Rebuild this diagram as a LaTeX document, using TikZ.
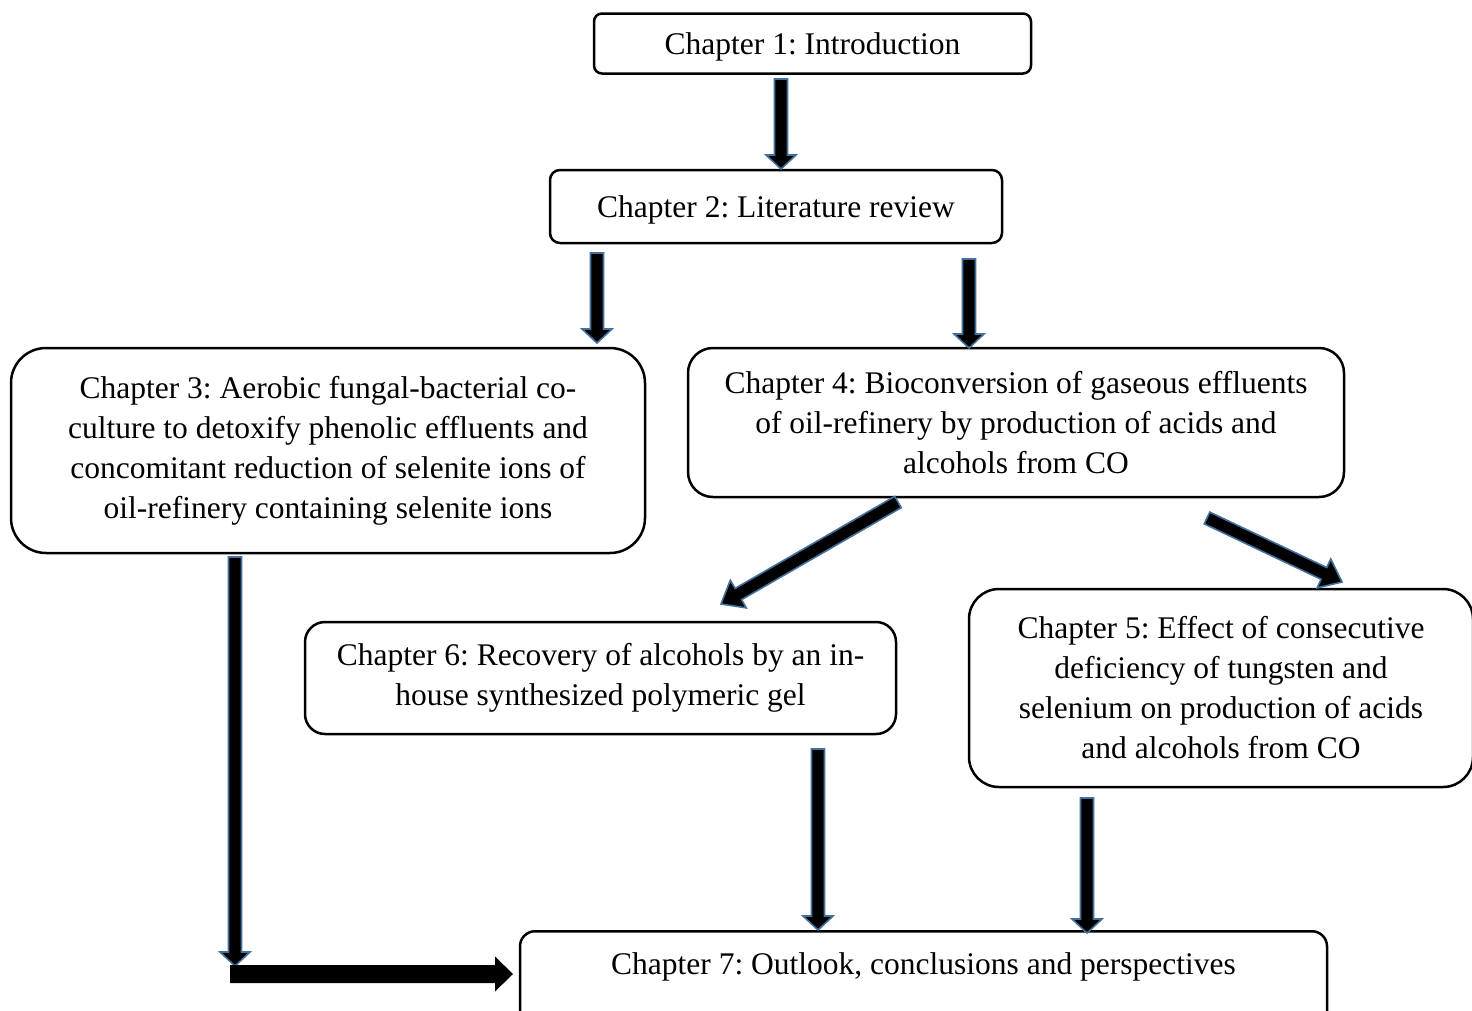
\documentclass[tikz,border=0pt]{standalone}
\usepackage{fontspec}
\setmainfont{Liberation Serif}
\usetikzlibrary{calc}
\definecolor{arrowedge}{HTML}{41719C}
\frenchspacing
\tikzset{
  chfont/.style={font=\fontsize{31.5}{40}\selectfont\frenchspacing},
  chbox/.style={draw=black, line width=2.5pt, fill=white, inner sep=0pt, align=center, chfont,
    execute at begin node={\rule{0pt}{28.5pt}}},
  barrow/.style={fill=black, draw=arrowedge, line width=1.6pt, line join=miter},
  barrowplain/.style={fill=black, draw=none},
}
% #1 style, #2 start, #3 end, #4 shaft half width, #5 head half width, #6 head length
\newcommand\blockarrow[6]{%
  \coordinate (hbase) at ($(#3)!#6!(#2)$);
  \path[#1] ($(#2)!#4!90:(#3)$) -- ($(hbase)!#4!90:(#3)$) -- ($(hbase)!#5!90:(#3)$)
    -- (#3) -- ($(hbase)!#5!-90:(#3)$) -- ($(hbase)!#4!-90:(#3)$)
    -- ($(#2)!#4!-90:(#3)$) -- cycle;
}
\begin{document}
\begin{tikzpicture}[x=1pt, y=-1pt]
\useasboundingbox (0,0) rectangle (1472,1010);

\node[chbox, rounded corners=8pt, minimum width=437pt, minimum height=60pt] (b1) at (812.5,43.5)
  {Chapter 1: Introduction};
\node[chbox, rounded corners=10pt, minimum width=452pt, minimum height=73pt] (b2) at (776,206.5)
  {Chapter 2: Literature review};
\node[chbox, rounded corners=35pt, minimum width=634pt, minimum height=205pt] (b3) at (328,450.5)
  {Chapter 3: Aerobic fungal-bacterial co-\\culture to detoxify phenolic effluents and\\concomitant reduction of selenite ions of\\oil-refinery containing selenite ions};
\node[chbox, rounded corners=25pt, minimum width=656pt, minimum height=149pt] (b4) at (1016,422.5)
  {Chapter 4: Bioconversion of gaseous effluents\\of oil-refinery by production of acids and\\alcohols from CO};
\node[chbox, rounded corners=20pt, minimum width=591pt, minimum height=112pt] (b6) at (600.5,678)
  {Chapter 6: Recovery of alcohols by an in-\\house synthesized polymeric gel};
\node[chbox, rounded corners=30pt, minimum width=504pt, minimum height=198pt] (b5) at (1221,688)
  {Chapter 5: Effect of consecutive\\deficiency of tungsten and\\selenium on production of acids\\and alcohols from CO};
\node[chbox, rounded corners=15pt, minimum width=807pt, minimum height=120pt, anchor=north] (b7) at (923.5,930) {};
\node[chfont, inner sep=0pt] (t7) at (923.5,967)
  {Chapter 7: Outlook, conclusions and perspectives};

% arrow coordinates
\coordinate (a1s) at (781,79);   \coordinate (a1e) at (781,169);
\coordinate (a2s) at (597,253);  \coordinate (a2e) at (597,343);
\coordinate (a3s) at (969,259);  \coordinate (a3e) at (969,348);
\coordinate (a4s) at (898,502);  \coordinate (a4e) at (721,604);
\coordinate (a5s) at (1207,518); \coordinate (a5e) at (1342,582);
\coordinate (a6s) at (818,749);  \coordinate (a6e) at (818,930);
\coordinate (a7s) at (1087,798); \coordinate (a7e) at (1087,933);
\coordinate (a8s) at (235,557);  \coordinate (a8e) at (235,966);
\coordinate (a9s) at (230,974);  \coordinate (a9e) at (513,974);

\blockarrow{barrow}{a1s}{a1e}{6.5pt}{15pt}{14pt}
\blockarrow{barrow}{a2s}{a2e}{6.5pt}{15pt}{14pt}
\blockarrow{barrow}{a3s}{a3e}{6.5pt}{15pt}{14pt}
\blockarrow{barrow}{a4s}{a4e}{6.5pt}{16pt}{20pt}
\blockarrow{barrow}{a5s}{a5e}{6.5pt}{16pt}{20pt}
\blockarrow{barrow}{a6s}{a6e}{6.5pt}{15pt}{14pt}
\blockarrow{barrow}{a7s}{a7e}{6.5pt}{15pt}{14pt}
\blockarrow{barrow}{a8s}{a8e}{6.5pt}{15pt}{14pt}
\blockarrow{barrowplain}{a9s}{a9e}{9pt}{17.5pt}{18pt}
\end{tikzpicture}
\end{document}
